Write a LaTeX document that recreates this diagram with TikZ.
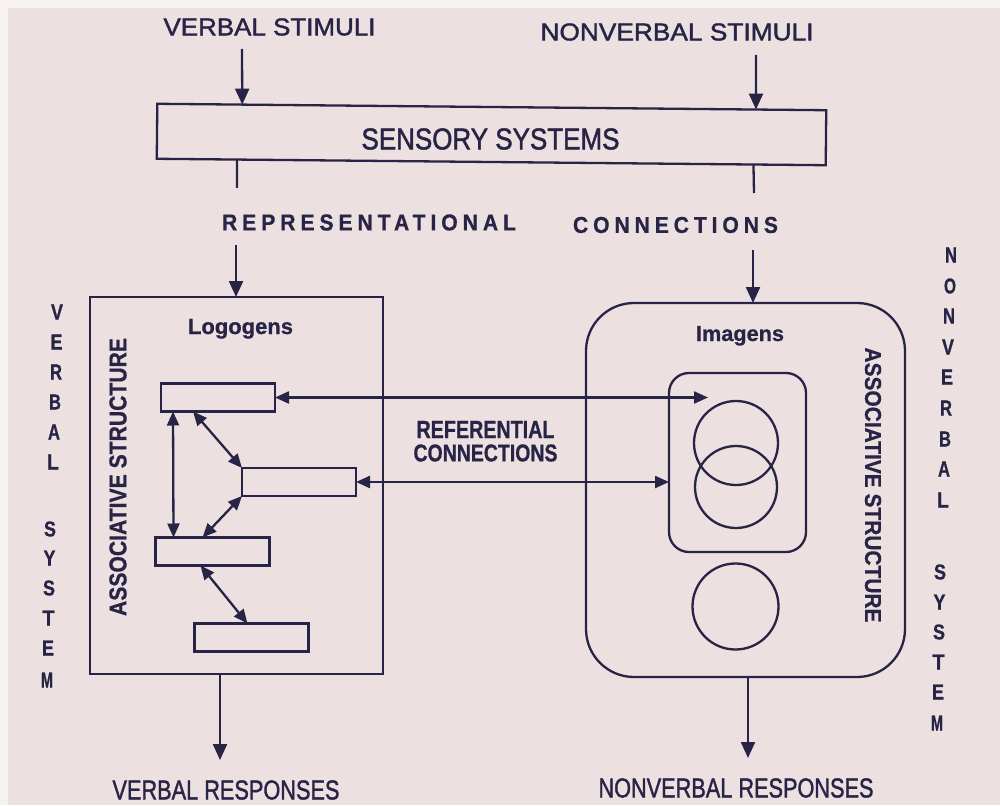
\documentclass[tikz,border=0pt]{standalone}
\usepackage{fontspec}
\setmainfont{Liberation Sans}
\usepackage{graphicx}
\usetikzlibrary{arrows.meta,calc}
\definecolor{ink}{RGB}{40,36,70}
\definecolor{paper}{RGB}{236,224,224}
\definecolor{edgec}{RGB}{247,242,242}
\newcommand\fitt[3]{\resizebox{#1pt}{#2pt}{#3}}
\newcommand\fitw[2]{\resizebox{#1pt}{!}{#2}}
\newcommand\rg{\addfontfeatures{FakeBold=1.6}}
\newcommand\bd{\bfseries\addfontfeatures{FakeBold=0.8}}
\newcommand\ltr[1]{\fitt{12}{15}{\bd #1}}
\begin{document}
\begin{tikzpicture}[x=1pt,y=-1pt,
  txt/.style={inner sep=0pt, outer sep=0pt, text=ink},
  outl/.style={draw=ink, line width=2.3pt, inner sep=0pt, outer sep=0pt},
  lbox/.style={outl, rectangle, minimum width=114pt, minimum height=28pt},
  circ/.style={outl, circle},
  arr/.style={draw=ink, line width=2.3pt, -{Triangle[length=16pt,width=14pt]}},
  darr/.style={draw=ink, line width=2.3pt, {Triangle[length=14pt,width=12pt]}-{Triangle[length=14pt,width=12pt]}},
  stub/.style={draw=ink, line width=2.3pt},
  lett/.style={txt},
]
% page
\fill[paper] (0,0) rectangle (1000,805);
\fill[edgec] (0,0) rectangle (1000,8);
\fill[edgec] (0,0) rectangle (8,805);
\useasboundingbox (0,0) rectangle (1000,805);

% top labels and sensory box
\node[txt] (vstim) at (269.5,27) {\fitt{212}{17}{\rg VERBAL STIMULI}};
\node[txt] (nstim) at (677,32) {\fitt{273}{17}{\rg NONVERBAL STIMULI}};
\node[outl, rectangle, minimum width=669pt, minimum height=55pt, rotate=-0.55] (sens) at (491.5,134.5) {};
\node[txt] (senslbl) at (490.5,139) {\fitt{258}{21}{\rg SENSORY SYSTEMS}};

\coordinate (stl) at ($(sens.north west)!0.127!(sens.north east)$);
\coordinate (str) at ($(sens.north west)!0.895!(sens.north east)$);
\coordinate (sbl) at ($(sens.south west)!0.12!(sens.south east)$);
\coordinate (sbr) at ($(sens.south west)!0.892!(sens.south east)$);
\coordinate (vin) at (242,49);
\coordinate (nin) at (756,55);
\coordinate (sblend) at (237,188);
\coordinate (sbrend) at (754,193);
\draw[arr] (vin) -- (stl);
\draw[arr] (nin) -- (str);
\draw[stub] (sbl) -- (sblend);
\draw[stub] (sbr) -- (sbrend);

\node[txt] (repr) at (369,222.5) {\fitt{294}{16}{\bd\addfontfeatures{LetterSpace=23}REPRESENTATIONAL}};
\node[txt] (conn) at (675.5,225) {\fitt{205}{16}{\bd\addfontfeatures{LetterSpace=23}CONNECTIONS}};

% verbal system
\node[outl, rectangle, minimum width=293pt, minimum height=377pt] (vsys) at (236.5,485.5) {};
\node[txt, anchor=base west] (logo) at (188,334) {\fitw{105}{\bd Logogens}};
\node[txt, rotate=90] (asl) at (118,477) {\fitt{278}{17}{\bd ASSOCIATIVE STRUCTURE}};
\node[lbox] (l1) at (218,397.5) {};
\node[lbox] (l2) at (299,482) {};
\node[lbox] (l3) at (212.5,551.5) {};
\node[lbox] (l4) at (251.5,637.5) {};
\draw[darr] ([xshift=12pt]l1.south west) -- ([xshift=18pt]l3.north west);
\draw[darr] ([xshift=32pt]l1.south west) -- (l2.north west);
\draw[darr] (l2.south west) -- ([xshift=47pt]l3.north west);
\draw[darr] ([xshift=45pt]l3.south west) -- ([xshift=53pt]l4.north west);

% nonverbal system
\node[outl, rectangle, rounded corners=48pt, minimum width=319pt, minimum height=374pt] (nvsys) at (745.5,490) {};
\node[txt, anchor=base west] (imag) at (696,341) {\fitw{88}{\bd Imagens}};
\node[txt, rotate=-90] (asr) at (873,485) {\fitt{275}{16}{\bd ASSOCIATIVE STRUCTURE}};
\node[outl, rectangle, rounded corners=20pt, minimum width=137pt, minimum height=179pt] (imgrp) at (737.5,462.5) {};
\node[circ, minimum size=84pt] (c1) at (736,443) {};
\node[circ, minimum size=82pt] (c2) at (736,487) {};
\node[circ, minimum size=86pt] (c3) at (735.5,606.5) {};

% representational arrows into systems
\coordinate (vsin) at (236,245);
\coordinate (nsin) at (753,250);
\draw[arr] (vsin) -- (vsin |- vsys.north);
\draw[arr] (nsin) -- (nsin |- nvsys.north);

% referential connections
\coordinate (r1) at (708,0);
\draw[darr] (l1.east) -- (l1.east -| r1);
\draw[darr] (l2.east) -- (l2.east -| imgrp.west);
\node[txt] (ref1) at (485.5,429.5) {\fitt{138}{17}{\bd REFERENTIAL}};
\node[txt] (ref2) at (485.5,453) {\fitt{144}{17}{\bd CONNECTIONS}};

% responses
\coordinate (vout) at (220,760);
\coordinate (nout) at (748,758);
\draw[arr] (vout |- vsys.south) -- (vout);
\draw[arr] (nout |- nvsys.south) -- (nout);
\node[txt] (vresp) at (226,790) {\fitt{227}{19}{\rg VERBAL RESPONSES}};
\node[txt] (nresp) at (736,788) {\fitt{275}{19}{\rg NONVERBAL RESPONSES}};

% vertical system labels
\foreach \l/\xx/\yy [count=\i] in {V/57/312, E/56.5/342, R/56/372, B/55/402, A/54/432, L/53/462, S/50/529, Y/49.5/558, S/49/588, T/48.5/618, E/48/648, M/47/680}
  {\node[lett] (vl\i) at (\xx,\yy) {\ltr{\l}};}
\foreach \l/\xx/\yy [count=\i] in {N/951/255, O/950/286, N/949/316, V/948/347, E/947/377, R/946/408, B/945/439, A/944/469, L/943/500, S/940/572, Y/939.5/602, S/939/632, T/938.5/662, E/938/692, M/937/723}
  {\node[lett] (nl\i) at (\xx,\yy) {\ltr{\l}};}
\end{tikzpicture}
\end{document}
